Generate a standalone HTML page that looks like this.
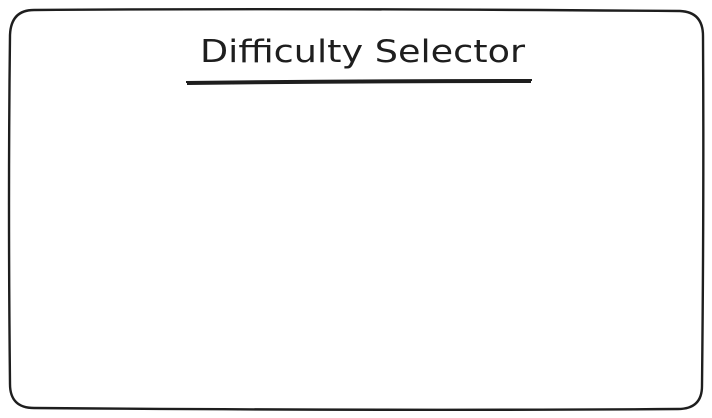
<!DOCTYPE html>
<html><head><meta charset="utf-8"><style>
html,body{margin:0;padding:0;background:#fff;width:712px;height:418px;overflow:hidden}
</style></head><body>
<svg width="712" height="418" viewBox="0 0 712 418">
  <path d="M34 10 Q300 8 680 11 Q703 12 703 36 Q704 200 702 386 Q702 409 678 409 Q400 411 34 408 Q10 408 10 384 Q8 200 10 35 Q11 10 34 10 Z" fill="none" stroke="#1e1e1e" stroke-width="2.4"/>
  <text x="200" y="62" textLength="325" lengthAdjust="spacingAndGlyphs" font-family="'DejaVu Sans',sans-serif" font-size="31" fill="#1e1e1e">Difficulty Selector</text>
  <path d="M186 82 Q360 80 532 80 M187 84 Q360 82 531 82" fill="none" stroke="#1e1e1e" stroke-width="2"/>
</svg>
</body></html>
